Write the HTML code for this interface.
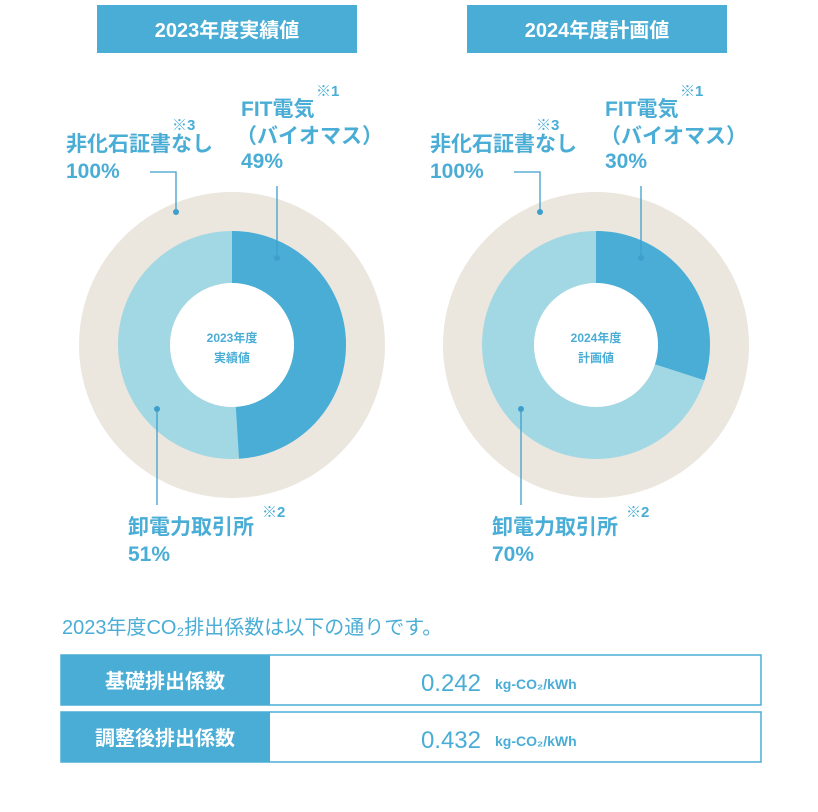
<!DOCTYPE html>
<html><head><meta charset="utf-8"><style>
html,body{margin:0;padding:0;background:#fff;}
svg text{font-family:"Liberation Sans","Noto Sans CJK JP",sans-serif;}
</style></head><body>
<svg width="818" height="807" viewBox="0 0 818 807" xmlns="http://www.w3.org/2000/svg">
<rect x="97" y="5" width="260" height="48" fill="#4aadd6"/>
<text x="227" y="37" text-anchor="middle" font-size="20" font-weight="bold" fill="#fff">2023年度実績値</text>
<rect x="467" y="5" width="260" height="48" fill="#4aadd6"/>
<text x="597" y="37" text-anchor="middle" font-size="20" font-weight="bold" fill="#fff">2024年度計画値</text>

<circle cx="232" cy="345" r="153" fill="#ebe6de"/>
<circle cx="232" cy="345" r="88" fill="none" stroke="#a2d8e4" stroke-width="52"/>
<circle cx="232" cy="345" r="88" fill="none" stroke="#4aadd6" stroke-width="52" stroke-dasharray="270.9 600" transform="rotate(-90 232 345)"/>
<circle cx="232" cy="345" r="62" fill="#fff"/>
<text x="232" y="342" text-anchor="middle" font-size="12" font-weight="bold" fill="#4aadd6">2023年度</text>
<text x="232" y="362" text-anchor="middle" font-size="12" font-weight="bold" fill="#4aadd6">実績値</text>

<circle cx="596" cy="345" r="153" fill="#ebe6de"/>
<circle cx="596" cy="345" r="88" fill="none" stroke="#a2d8e4" stroke-width="52"/>
<circle cx="596" cy="345" r="88" fill="none" stroke="#4aadd6" stroke-width="52" stroke-dasharray="165.9 600" transform="rotate(-90 596 345)"/>
<circle cx="596" cy="345" r="62" fill="#fff"/>
<text x="596" y="342" text-anchor="middle" font-size="12" font-weight="bold" fill="#4aadd6">2024年度</text>
<text x="596" y="362" text-anchor="middle" font-size="12" font-weight="bold" fill="#4aadd6">計画値</text>

<g fill="#4aadd6" font-weight="bold">
<text x="316" y="96" font-size="15">※1</text>
<text x="241" y="116" font-size="21">FIT電気</text>
<text x="236" y="143" font-size="21">（バイオマス）</text>
<text x="241" y="168" font-size="21">49%</text>
<text x="172" y="130" font-size="15">※3</text>
<text x="66" y="151" font-size="21">非化石証書なし</text>
<text x="66" y="178" font-size="21">100%</text>
<text x="262" y="517" font-size="15">※2</text>
<text x="128" y="534" font-size="21">卸電力取引所</text>
<text x="128" y="561" font-size="21">51%</text>
<text x="680" y="96" font-size="15">※1</text>
<text x="605" y="116" font-size="21">FIT電気</text>
<text x="600" y="143" font-size="21">（バイオマス）</text>
<text x="605" y="168" font-size="21">30%</text>
<text x="536" y="130" font-size="15">※3</text>
<text x="430" y="151" font-size="21">非化石証書なし</text>
<text x="430" y="178" font-size="21">100%</text>
<text x="626" y="517" font-size="15">※2</text>
<text x="492" y="534" font-size="21">卸電力取引所</text>
<text x="492" y="561" font-size="21">70%</text>
</g>

<g stroke="#3f9fcc" stroke-width="1.3" fill="none">
<path d="M150 172 H176 V212"/><path d="M277 186 V258"/><path d="M157 409 V505"/>
<path d="M514 172 H540 V212"/><path d="M641 186 V258"/><path d="M521 409 V505"/>
</g>
<g fill="#3f9fcc">
<circle cx="176" cy="212" r="3"/><circle cx="277" cy="258" r="3"/><circle cx="157" cy="409" r="3"/>
<circle cx="540" cy="212" r="3"/><circle cx="641" cy="258" r="3"/><circle cx="521" cy="409" r="3"/>
</g>

<text x="62" y="634" font-size="20" fill="#4aadd6">2023年度CO₂排出係数は以下の通りです。</text>
<rect x="61" y="655" width="700" height="50" fill="#fff" stroke="#4aadd6" stroke-width="1.5"/>
<rect x="61" y="655" width="209" height="50" fill="#4aadd6"/>
<text x="165" y="688" text-anchor="middle" font-size="20" font-weight="bold" fill="#fff">基礎排出係数</text>
<text x="481" y="691" text-anchor="end" font-size="24" fill="#4aadd6">0.242</text>
<text x="495" y="689" font-size="14" font-weight="bold" fill="#4aadd6">kg-CO₂/kWh</text>
<rect x="61" y="712" width="700" height="50" fill="#fff" stroke="#4aadd6" stroke-width="1.5"/>
<rect x="61" y="712" width="209" height="50" fill="#4aadd6"/>
<text x="165" y="745" text-anchor="middle" font-size="20" font-weight="bold" fill="#fff">調整後排出係数</text>
<text x="481" y="748" text-anchor="end" font-size="24" fill="#4aadd6">0.432</text>
<text x="495" y="746" font-size="14" font-weight="bold" fill="#4aadd6">kg-CO₂/kWh</text>
</svg>
</body></html>
